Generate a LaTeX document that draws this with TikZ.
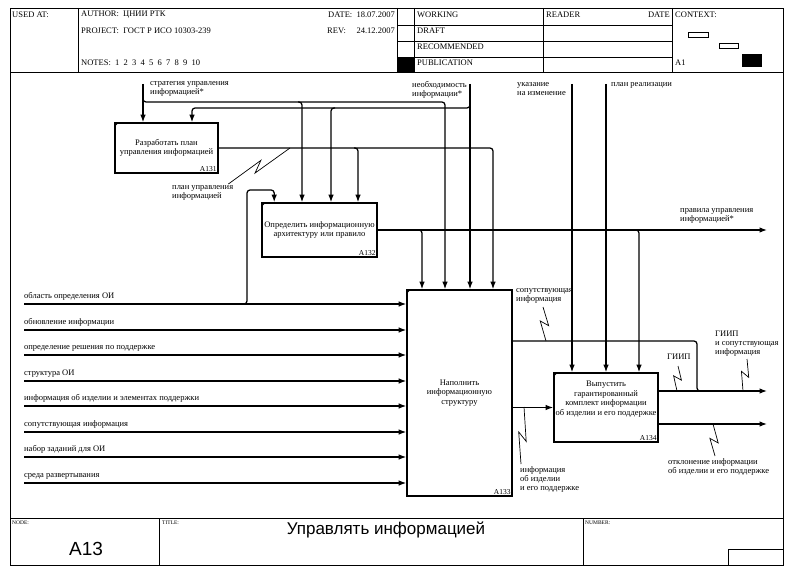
\documentclass[tikz,border=0pt]{standalone}
\usepackage{fontspec}
\setmainfont{Liberation Serif}
\newfontfamily\titlefont{Liberation Sans}
\usetikzlibrary{calc,arrows.meta,positioning}
\tikzstyle{func}=[rectangle,
	line width=1.6pt,
	draw=black,
	align=center,
	inner sep=1pt,
	font=\fontsize{8.5}{9.5}\selectfont]
\tikzstyle{num}=[anchor=south east,
	inner sep=2pt,
	font=\fontsize{7.5}{9}\selectfont]
\tikzstyle{flow}=[line width=1.25pt,
	rounded corners=3pt,
	-{Latex[length=7.5pt,width=5.5pt]}]
\tikzstyle{link}=[line width=1.25pt,
	rounded corners=3pt]
\tikzstyle{lbl}=[inner sep=0pt,
	align=left,
	anchor=north west,
	font=\fontsize{8.5}{9}\selectfont]
\tikzstyle{squig}=[line width=0.7pt,
	to path={-- ($(\tikztostart)!.56!(\tikztotarget)!4pt!90:(\tikztotarget)$) -- ($(\tikztostart)!.40!(\tikztotarget)!4pt!-90:(\tikztotarget)$) -- (\tikztotarget)}]
\tikzstyle{head}=[inner sep=0pt,
	anchor=west,
	font=\fontsize{8.5}{9}\selectfont]
\tikzstyle{foot}=[inner sep=0pt,
	anchor=north west,
	font=\fontsize{5.5}{6}\selectfont]
\tikzstyle{big}=[inner sep=0pt,
	font=\titlefont\fontsize{17}{20}\selectfont]

\begin{document}
\begin{tikzpicture}[x=1pt,y=-1pt]
	\useasboundingbox (0,0) rectangle (794,572);
	\draw[line width=0.8pt] (10,8) rectangle (783,565);
	\draw (10,72) -- (783,72);
	\draw (10,518) -- (783,518);
	\foreach \x in {78,397,414,543,672}
		\draw (\x,8) -- (\x,72);
	\foreach \y in {25,41,57}
		\draw (397,\y) -- (672,\y);
	\fill (397,57) rectangle (414,72);
	\draw[line width=0.8pt] (688,32) rectangle (708,37);
	\draw[line width=0.8pt] (719,43) rectangle (738,48);
	\fill (742,54) rectangle (762,67);
	\draw (159,518) -- (159,565);
	\draw (583,518) -- (583,565);
	\draw (728,549) rectangle (783,565);

	\node (usedat) [head] at (12,15) {USED AT:};
	\node (author) [head] at (81,15) {AUTHOR:\ \ ЦНИИ РТК};
	\node (project) [head] at (81,31) {PROJECT:\ \ ГОСТ Р ИСО 10303-239};
	\node (notes) [head] at (81,63) {NOTES:\ \ 1\ \ 2\ \ 3\ \ 4\ \ 5\ \ 6\ \ 7\ \ 8\ \ 9\ \ 10};
	\node (date) [head, anchor=east] at (395,15) {DATE:\ \ 18.07.2007};
	\node (rev) [head] at (327,31) {REV:};
	\node (revdate) [head, anchor=east] at (395,31) {24.12.2007};
	\node (working) [head] at (417,15) {WORKING};
	\node (draft) [head] at (417,31) {DRAFT};
	\node (recommended) [head] at (417,47) {RECOMMENDED};
	\node (publication) [head] at (417,63) {PUBLICATION};
	\node (reader) [head] at (546,15) {READER};
	\node (readerdate) [head, anchor=east] at (670,15) {DATE};
	\node (context) [head] at (675,15) {CONTEXT:};
	\node (ctxnode) [head] at (675,63) {A1};

	\node (A131) [func, minimum width=103pt, minimum height=50pt] at (166.5,148) {Разработать план\\управления информацией};
	\node (n131) [num] at (A131.south east) {A131};
	\node (A132) [func, minimum width=115pt, minimum height=54pt] at (319.5,230) {Определить информационную\\архитектуру или правило};
	\node (n132) [num] at (A132.south east) {A132};
	\node (A133) [func, minimum width=105pt, minimum height=206pt] at (459.5,393) {Наполнить\\информационную\\структуру};
	\node (n133) [num] at (A133.south east) {A133};
	\node (A134) [func, minimum width=104pt, minimum height=69pt] at (606,407.5) {Выпустить\\гарантированный\\комплект информации\\об изделии и его поддержке\\[9pt]\mbox{}};
	\node (n134) [num] at (A134.south east) {A134};
	\foreach \b in {A131,A132,A133,A134}
		\fill (\b.north west) -- ++(5,0) -- ++(-5,5) -- cycle;

	\foreach \i/\y/\t in {1/304/{область определения ОИ},2/330/{обновление информации},3/355/{определение решения по поддержке},4/381/{структура ОИ},5/406/{информация об изделии и элементах поддержки},6/432/{сопутствующая информация},7/457/{набор заданий для ОИ},8/483/{среда развертывания}}{
		\coordinate (in\i) at (24,\y);
		\node (tin\i) [lbl, anchor=south west] at ([yshift=3pt]in\i) {\t};
		\draw[flow] (in\i) -- (in\i -| A133.west);
	}
	\draw[flow] (243,304) -| (247,190) -| ([xshift=13pt]A132.north west);

	\coordinate (cs) at (143,84);
	\node (tcs) [lbl] at (150,81) {стратегия управления\\информацией*};
	\draw[flow] (cs) -- (cs |- A131.north);
	\draw[flow] (143,97) -- (143,102) -| (A133.north -| 445,0);
	\draw[flow] (298,102) -| (A132.north -| 302,0);

	\coordinate (cn) at (470,84);
	\node (tcn) [lbl] at (412,81) {необходимость\\информации*};
	\draw[flow] (cn) -- (cn |- A133.north);
	\draw[flow] (470,103) -- (470,108) -| (A131.north -| 192,0);
	\draw[flow] (335,108) -| (A132.north -| 331,0);

	\draw[flow] (A131.east) -| (A133.north -| 493,0);
	\draw[flow] (354,148) -| (A132.north -| 358,0);
	\node (tplu) [lbl] at (172,185) {план управления\\информацией};
	\coordinate (splu) at (290,148);
	\draw[squig] ([xshift=-5pt,yshift=1pt]tplu.north east) to (splu);

	\coordinate (orules) at (767,230);
	\node (trules) [lbl] at (680,208) {правила управления\\информацией*};
	\draw[flow] (A132.east) -- (orules);
	\draw[flow] (418,230) -| (A133.north -| 422,0);
	\draw[flow] (635,230) -| (A134.north -| 639,0);

	\coordinate (cu) at (572,84);
	\node (tcu) [lbl] at (517,82) {указание\\на изменение};
	\draw[flow] (cu) -- (cu |- A134.north);
	\coordinate (cp) at (606,84);
	\node (tcp) [lbl] at (611,82) {план реализации};
	\draw[flow] (cp) -- (cp |- A134.north);

	\draw[link] (A133.east |- 0,341) -| (697,391) -- (703,391);
	\node (tsop) [lbl] at (516,288) {сопутствующая\\информация};
	\coordinate (ssop) at (546,341);
	\draw[squig] (543,307) to (ssop);

	\draw[flow] (A133.east |- A134.west) -- (A134.west);
	\node (tinf) [lbl] at (520,466) {информация\\об изделии\\и его поддержке};
	\coordinate (sinf) at (524,407);
	\draw[squig] ([xshift=1pt,yshift=2pt]tinf.north west) to (sinf);

	\coordinate (og) at (767,391);
	\coordinate (oo) at (767,424);
	\draw[flow] (A134.east |- og) -- (og);
	\draw[flow] (A134.east |- oo) -- (oo);
	\node (tgiip) [lbl] at (667,354) {ГИИП};
	\coordinate (sgiip) at (677,391);
	\draw[squig] (678,366) to (sgiip);
	\node (tgiips) [lbl] at (715,331) {ГИИП\\и сопутствующая\\информация};
	\coordinate (sgiips) at (743,391);
	\draw[squig] (747,359) to (sgiips);
	\node (totk) [lbl] at (668,458) {отклонение информации\\об изделии и его поддержке};
	\coordinate (sotk) at (713,424);
	\draw[squig] (715,456) to (sotk);

	\node (nodelbl) [foot] at (12,521) {NODE:};
	\node (nodeid) [big, font=\titlefont\fontsize{19}{22}\selectfont] at (86,549) {A13};
	\node (titlelbl) [foot] at (162,521) {TITLE:};
	\node (title) [big] at (386,530) {Управлять информацией};
	\node (numlbl) [foot] at (585,521) {NUMBER:};
\end{tikzpicture}
\end{document}
